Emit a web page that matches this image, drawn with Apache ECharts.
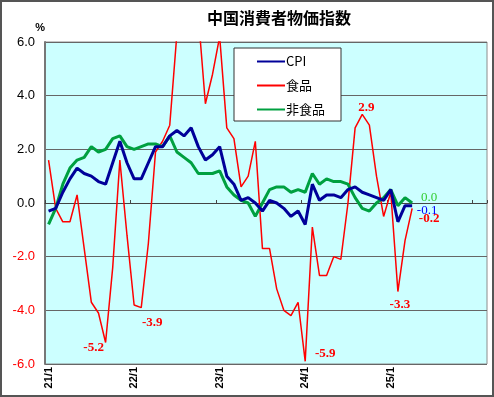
<!DOCTYPE html>
<html>
<head>
<meta charset="utf-8">
<script src="https://cdn.jsdelivr.net/npm/echarts@6/dist/echarts.min.js"></script>
<style>
	html, body { margin: 0; padding: 0; background: #fff; }
	#chart { width: 494px; height: 397px; }
</style>
</head>
<body>
<div id="chart"></div>
<script>
// months shown on the axis: 21/1 .. 26/2
var months = [];
for (var y = 21; y <= 26; y++) {
	for (var m = 1; m <= 12; m++) {
		if (y === 26 && m > 2) break;
		months.push(y + '/' + m);
	}
}

// 前年同月比 (%), 2021/1 - 2025/4
var cpi = [
	-0.3, -0.2, 0.4, 0.9, 1.3, 1.1, 1.0, 0.8, 0.7, 1.5, 2.3, 1.5,
	0.9, 0.9, 1.5, 2.1, 2.1, 2.5, 2.7, 2.5, 2.8, 2.1, 1.6, 1.8,
	2.1, 1.0, 0.7, 0.1, 0.2, 0.0, -0.3, 0.1, 0.0, -0.2, -0.5, -0.3,
	-0.8, 0.7, 0.1, 0.3, 0.3, 0.2, 0.5, 0.6, 0.4, 0.3, 0.2, 0.1,
	0.5, -0.7, -0.1, -0.1
];
var food = [
	1.6, -0.2, -0.7, -0.7, 0.3, -1.7, -3.7, -4.1, -5.2, -2.4, 1.6, -1.2,
	-3.8, -3.9, -1.5, 1.9, 2.3, 2.9, 6.3, 6.1, 8.8, 7.0, 3.7, 4.8,
	6.2, 2.8, 2.4, 0.6, 1.0, 2.3, -1.7, -1.7, -3.2, -4.0, -4.2, -3.7,
	-5.9, -0.9, -2.7, -2.7, -2.0, -2.1, 0.0, 2.8, 3.3, 2.9, 1.0, -0.5,
	0.4, -3.3, -1.4, -0.2
];
var nonFood = [
	-0.8, -0.2, 0.7, 1.3, 1.6, 1.7, 2.1, 1.9, 2.0, 2.4, 2.5, 2.1,
	2.0, 2.1, 2.2, 2.2, 2.1, 2.5, 1.9, 1.7, 1.5, 1.1, 1.1, 1.1,
	1.2, 0.6, 0.3, 0.1, 0.0, -0.5, 0.0, 0.5, 0.6, 0.6, 0.4, 0.5,
	0.4, 1.1, 0.7, 0.9, 0.8, 0.8, 0.7, 0.2, -0.2, -0.3, 0.0, 0.2,
	0.5, -0.1, 0.2, 0.0
];

// which points carry a value label, and where the label sits
var foodMarks = { 8: [-12, 5], 13: [11, 15], 36: [20, -8], 45: [-3, -18], 49: [2, 13], 51: [17, 10] };
var cpiMarks = { 51: [15, 5] };
var nonFoodMarks = { 51: [17, -5] };

function valueLabels(values, marks, color, bold) {
	var pts = [];
	Object.keys(marks).forEach(function (k) {
		var i = +k;
		pts.push({
			coord: [i, values[i]],
			value: values[i],
			label: { offset: marks[k] }
		});
	});
	return {
		symbol: 'circle',
		symbolSize: 0,
		silent: true,
		label: {
			show: true,
			position: 'inside',
			formatter: function (p) { return p.value.toFixed(1); },
			color: color,
			fontFamily: 'Liberation Serif',
			fontWeight: bold ? 'bold' : 'normal',
			fontSize: 13
		},
		data: pts
	};
}

var chart = echarts.init(document.getElementById('chart'));
var option = {
	animation: false,
	backgroundColor: '#fff',
	title: {
		text: '中国消費者物価指数',
		left: 207,
		top: 10,
		padding: 0,
		textStyle: {
			fontFamily: 'Noto Sans CJK JP',
			fontWeight: 'bold',
			fontSize: 16,
			color: '#000'
		}
	},
	graphic: [{
		type: 'rect',
		shape: { x: 1, y: 1, width: 492, height: 395 },
		style: { fill: 'none', stroke: '#555', lineWidth: 2 },
		silent: true
	}],
	legend: {
		orient: 'vertical',
		left: 234,
		top: 48,
		padding: [7, 16, 5, 22],
		itemWidth: 28,
		itemHeight: 14,
		itemGap: 11,
		backgroundColor: '#fff',
		borderColor: '#333',
		borderWidth: 1,
		itemStyle: { opacity: 0 },
		textStyle: {
			fontFamily: 'Noto Sans CJK JP',
			fontSize: 13,
			color: '#000',
			padding: [0, 0, 0, -4]
		},
		data: ['CPI', '食品', '非食品']
	},
	grid: {
		left: 45,
		right: 7,
		top: 42,
		bottom: 33,
		show: true,
		backgroundColor: '#ccffff',
		borderColor: '#8c8c8c',
		borderWidth: 1
	},
	xAxis: [{
		type: 'category',
		boundaryGap: true,
		data: months,
		axisLine: { show: false, onZero: false },
		axisTick: { show: false },
		splitLine: { show: false },
		axisLabel: {
			interval: function (i) { return i % 12 === 0 && i < 60; },
			rotate: 90,
			margin: 3,
			fontFamily: 'Liberation Sans',
			fontWeight: 'bold',
			fontSize: 11,
			color: '#000'
		}
	}, {
		type: 'category',
		boundaryGap: true,
		data: months,
		position: 'bottom',
		axisLine: { show: true, onZero: true, lineStyle: { color: '#444', width: 1 } },
		axisTick: {
			show: true,
			inside: true,
			length: 3,
			interval: function (i) { return i % 12 === 0; },
			lineStyle: { color: '#444' }
		},
		axisLabel: { show: false },
		splitLine: { show: false }
	}],
	yAxis: {
		type: 'value',
		min: -6,
		max: 6,
		interval: 2,
		name: '%',
		nameLocation: 'end',
		nameGap: 9,
		nameTextStyle: {
			fontFamily: 'Liberation Sans',
			fontWeight: 'bold',
			fontSize: 11,
			color: '#000',
			align: 'right'
		},
		axisLine: { show: true, lineStyle: { color: '#777', width: 2 } },
		axisTick: { show: false },
		splitLine: { show: true, lineStyle: { color: '#666', width: 1 } },
		axisLabel: {
			margin: 10,
			fontFamily: 'Liberation Sans',
			fontSize: 13,
			formatter: function (v) { return v.toFixed(1); },
			color: function (v) { return v < 0 ? '#ff0000' : '#000'; }
		}
	},
	series: [{
		name: 'CPI',
		type: 'line',
		xAxisIndex: 0,
		symbol: 'none',
		z: 4,
		lineStyle: { color: '#000099', width: 3 },
		itemStyle: { color: '#000099' },
		markPoint: valueLabels(cpi, cpiMarks, '#0000ff', false),
		data: cpi
	}, {
		name: '食品',
		type: 'line',
		xAxisIndex: 0,
		symbol: 'none',
		z: 2,
		lineStyle: { color: '#ff0000', width: 1.5 },
		itemStyle: { color: '#ff0000' },
		markPoint: valueLabels(food, foodMarks, '#ff0000', true),
		data: food
	}, {
		name: '非食品',
		type: 'line',
		xAxisIndex: 0,
		symbol: 'none',
		z: 3,
		lineStyle: { color: '#00a040', width: 3 },
		itemStyle: { color: '#00a040' },
		markPoint: valueLabels(nonFood, nonFoodMarks, '#33cc33', false),
		data: nonFood
	}]
};
chart.setOption(option);
</script>
</body>
</html>
